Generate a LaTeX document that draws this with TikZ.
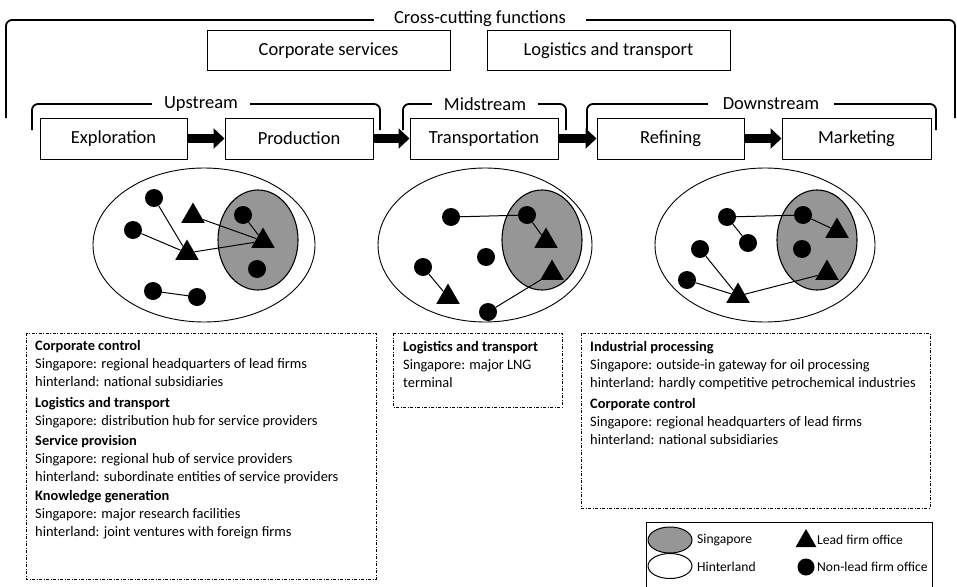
\documentclass[tikz,border=0pt]{standalone}
\usepackage{fontspec}
\setmainfont{Carlito}
\usetikzlibrary{shapes.geometric,arrows.meta}
\definecolor{sgGrey}{HTML}{969696}
\begin{document}
\begin{tikzpicture}[x=1pt,y=-1pt,
  bracketline/.style={line width=1.8pt, rounded corners=6pt},
  bracketlabel/.style={fill=white, inner xsep=12pt, inner ysep=2pt, font=\fontsize{18.5}{22}\selectfont},
  topbox/.style={draw, line width=1pt, minimum height=39pt, minimum width=243pt, font=\fontsize{18.5}{22}\selectfont},
  stagebox/.style={draw, line width=1pt, minimum height=41pt, inner sep=0pt, font=\fontsize{18.5}{22}\selectfont},
  flowarrow/.style={line width=9pt, -{Triangle[length=11pt,width=20pt]}},
  hinter/.style={ellipse, draw, line width=0.9pt, inner sep=0pt},
  sing/.style={ellipse, draw, line width=1.1pt, fill=sgGrey, inner sep=0pt, minimum width=80pt, minimum height=100pt},
  nonlead/.style={circle, fill=black, inner sep=0pt, minimum size=18pt},
  leadtri/.style={regular polygon, regular polygon sides=3, fill=black, inner sep=0pt, minimum size=27pt},
  linkline/.style={line width=1pt},
  infobox/.style={draw, line width=0.9pt, dash pattern=on 3pt off 1.5pt on 1pt off 1.5pt},
  infotext/.style={anchor=north west, inner sep=0pt, align=left, font=\fontsize{14.4}{18}\selectfont},
  legtext/.style={anchor=west, inner sep=0pt, font=\fontsize{13.6}{16}\selectfont},
]
\useasboundingbox (0,0) rectangle (957,586);

% cross-cutting bracket
\draw[bracketline] (6,118) -- (6,20) -- (955,20) -- (955,118);
\node[bracketlabel, inner xsep=20pt] (cross) at (480,19) {Cross-cutting functions};
\node[topbox] (corp) at (328.5,50.5) {Corporate services};
\node[topbox] (logi) at (608.5,50.5) {Logistics and transport};

% stage brackets
\draw[bracketline] (32,130) -- (32,104) -- (380,104) -- (380,130);
\node[bracketlabel] (up) at (201,104) {Upstream};
\draw[bracketline] (403,130) -- (403,104) -- (566,104) -- (566,130);
\node[bracketlabel] (mid) at (485,104) {Midstream};
\draw[bracketline] (587,130) -- (587,104) -- (936,104) -- (936,130);
\node[bracketlabel, inner xsep=15pt] (down) at (771,104) {Downstream};

% stage boxes
\node[stagebox, minimum width=147pt] (expl) at (113.5,138.5) {Exploration};
\node[stagebox, minimum width=148pt] (prod) at (299,138.5) {Production};
\node[stagebox, minimum width=148pt] (trans) at (484,138.5) {Transportation};
\node[stagebox, minimum width=147pt] (refi) at (670.5,138.5) {Refining};
\node[stagebox, minimum width=149pt] (mark) at (856.5,138.5) {Marketing};
\draw[flowarrow] (expl) -- (prod);
\draw[flowarrow] (prod) -- (trans);
\draw[flowarrow] (trans) -- (refi);
\draw[flowarrow] (refi) -- (mark);

% upstream cluster
\node[hinter, minimum width=222pt, minimum height=154pt] (h1) at (204,245) {};
\node[sing] (s1) at (258,240) {};
\node[nonlead] (a1) at (154,198) {};
\node[nonlead] (a2) at (133,230) {};
\node[nonlead] (a3) at (243,215) {};
\node[nonlead] (a4) at (257,269) {};
\node[nonlead] (a5) at (153,291) {};
\node[nonlead] (a6) at (197,297) {};
\node[leadtri] (t1) at (193,216) {};
\node[leadtri] (t2) at (187,253) {};
\node[leadtri] (t3) at (263,241) {};
\draw[linkline] (a1) -- (t2);
\draw[linkline] (a2) -- (t2);
\draw[linkline] (t2) -- (t3);
\draw[linkline] (t1) -- (t3);
\draw[linkline] (a3) -- (t3);
\draw[linkline] (a5) -- (a6);

% midstream cluster
\node[hinter, minimum width=214pt, minimum height=154pt] (h2) at (485,245) {};
\node[sing] (s2) at (542,240) {};
\node[nonlead] (b1) at (451,217) {};
\node[nonlead] (b2) at (527,215) {};
\node[nonlead] (b3) at (486,257) {};
\node[nonlead] (b4) at (423,267) {};
\node[nonlead] (b5) at (488,312) {};
\node[leadtri] (u1) at (546,241) {};
\node[leadtri] (u2) at (552,273) {};
\node[leadtri] (u3) at (448,297) {};
\draw[linkline] (b1) -- (b2);
\draw[linkline] (b2) -- (u1);
\draw[linkline] (b4) -- (u3);
\draw[linkline] (b5) -- (u2);

% downstream cluster
\node[hinter, minimum width=220pt, minimum height=154pt] (h3) at (765,245) {};
\node[sing] (s3) at (817,240) {};
\node[nonlead] (c1) at (727,217) {};
\node[nonlead] (c2) at (748,243) {};
\node[nonlead] (c3) at (700,249) {};
\node[nonlead] (c4) at (687,280) {};
\node[nonlead] (c5) at (803,215) {};
\node[nonlead] (c6) at (802,249) {};
\node[leadtri] (v1) at (837,231) {};
\node[leadtri] (v2) at (827,273) {};
\node[leadtri] (v3) at (738,296) {};
\draw[linkline] (c1) -- (c5);
\draw[linkline] (c1) -- (c2);
\draw[linkline] (c5) -- (v1);
\draw[linkline] (c3) -- (v3);
\draw[linkline] (c4) -- (v3);
\draw[linkline] (v3) -- (v2);

% info boxes
\draw[infobox] (26,333) rectangle (376,579);
\node[infotext] (info1) at (35,340) {\textbf{Corporate control}\\
Singapore: regional headquarters of lead firms\\
hinterland: national subsidiaries\\[3pt]
\textbf{Logistics and transport}\\
Singapore: distribution hub for service providers\\[2pt]
\textbf{Service provision}\\
Singapore: regional hub of service providers\\
hinterland: subordinate entities of service providers\\[1pt]
\textbf{Knowledge generation}\\
Singapore: major research facilities\\
hinterland: joint ventures with foreign firms};

\draw[infobox] (393,333) rectangle (562,407);
\node[infotext] (info2) at (403,341) {\textbf{Logistics and transport}\\
Singapore: major LNG\\
terminal};

\draw[infobox] (581,333) rectangle (930,508);
\node[infotext] (info3) at (590,341) {\textbf{Industrial processing}\\
Singapore: outside-in gateway for oil processing\\
hinterland: hardly competitive petrochemical industries\\[3pt]
\textbf{Corporate control}\\
Singapore: regional headquarters of lead firms\\
hinterland: national subsidiaries};

% legend
\draw[line width=1pt] (646,600) -- (646,522) -- (932,522) -- (932,600);
\node[ellipse, draw, line width=1pt, fill=sgGrey, minimum width=44pt, minimum height=26pt, inner sep=0pt] (lgs) at (670,540) {};
\node[ellipse, draw, line width=1pt, minimum width=44pt, minimum height=25pt, inner sep=0pt] (lgh) at (670,566) {};
\node[legtext] (lgst) at (697,540) {Singapore};
\node[legtext] (lght) at (697,567) {Hinterland};
\node[leadtri, minimum size=24pt] (lgt) at (806,541) {};
\node[nonlead, minimum size=17pt] (lgc) at (806,567) {};
\node[legtext] (lgtt) at (817,540) {Lead firm office};
\node[legtext] (lgct) at (817,567) {Non-lead firm office};
\end{tikzpicture}
\end{document}
